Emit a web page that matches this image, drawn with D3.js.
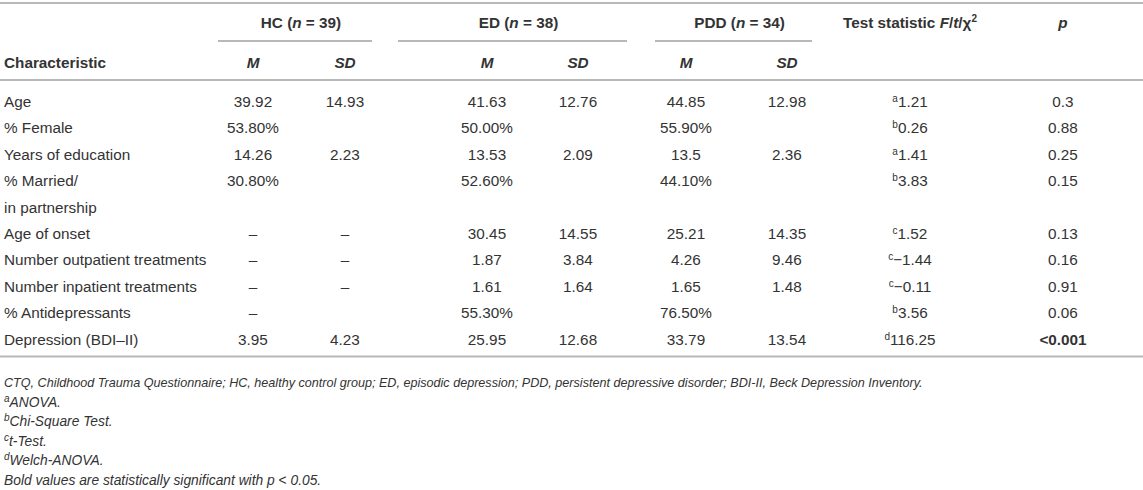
<!DOCTYPE html>
<html>
<head>
<meta charset="utf-8">
<script src="https://cdn.jsdelivr.net/npm/d3@7/dist/d3.min.js"></script>
<style>
    body { margin: 0; background: #fff; }
    svg text { font-family: "Liberation Sans", Arial, Helvetica, sans-serif; fill: #333; }
</style>
</head>
<body>
<svg width="1143" height="490"></svg>
<script>
// table content
var characteristics = ["Age", "% Female", "Years of education", "% Married/|in partnership", "Age of onset",
    "Number outpatient treatments", "Number inpatient treatments", "% Antidepressants", "Depression (BDI–II)"];
var groups = ["HC", "ED", "PDD"];
var groupN = [39, 38, 34];
var hcM   = ["39.92", "53.80%", "14.26", "30.80%", "–", "–", "–", "–", "3.95"];
var hcSD  = ["14.93", "", "2.23", "", "–", "–", "–", "", "4.23"];
var edM   = ["41.63", "50.00%", "13.53", "52.60%", "30.45", "1.87", "1.61", "55.30%", "25.95"];
var edSD  = ["12.76", "", "2.09", "", "14.55", "3.84", "1.64", "", "12.68"];
var pddM  = ["44.85", "55.90%", "13.5", "44.10%", "25.21", "4.26", "1.65", "76.50%", "33.79"];
var pddSD = ["12.98", "", "2.36", "", "14.35", "9.46", "1.48", "", "13.54"];
var testType = ["a", "b", "a", "b", "c", "c", "c", "b", "d"];
var testStat = ["1.21", "0.26", "1.41", "3.83", "1.52", "−1.44", "−0.11", "3.56", "116.25"];
var pValues  = ["0.3", "0.88", "0.25", "0.15", "0.13", "0.16", "0.91", "0.06", "<0.001"];
var pBold    = [false, false, false, false, false, false, false, false, true];
var footnotes = [
    { sup: "", text: "CTQ, Childhood Trauma Questionnaire; HC, healthy control group; ED, episodic depression; PDD, persistent depressive disorder; BDI-II, Beck Depression Inventory." },
    { sup: "a", text: "ANOVA." },
    { sup: "b", text: "Chi-Square Test." },
    { sup: "c", text: "t-Test." },
    { sup: "d", text: "Welch-ANOVA." },
    { sup: "", text: "Bold values are statistically significant with p < 0.05." }
];

var W = 1143;
var FS = 15.3;
var svg = d3.select("svg");
var ruleColor = "#b8b8b8";

// column positions
var colKeys = ["hcM", "hcSD", "edM", "edSD", "pddM", "pddSD", "stat", "p"];
var x = d3.scaleOrdinal().domain(colKeys).range([253, 345, 487, 578, 686, 787, 910, 1063]);
// spans of the rules under the group headers
var groupSpan = [[218, 372], [398, 627], [655, 812]];

// each row may take several text lines; line index -> y
var lineStart = [];
var n = 0;
characteristics.forEach(function (c) { lineStart.push(n); n += c.split("|").length; });
var y = d3.scaleLinear().domain([0, 1]).range([102, 128.4]);

// rules
function rule(yy, x1, x2) {
    svg.append("line").attr("x1", x1).attr("x2", x2).attr("y1", yy).attr("y2", yy)
        .attr("stroke", ruleColor).attr("stroke-width", 2);
}
rule(3, 0, W);
rule(80, 0, W);
rule(y(n - 1) + 17, 0, W);

// group headers
var pairs = [["hcM", "hcSD"], ["edM", "edSD"], ["pddM", "pddSD"]];
groups.forEach(function (g, i) {
    var cx = (groupSpan[i][0] + groupSpan[i][1]) / 2 + 6;
    var t = svg.append("text").attr("x", cx).attr("y", 28).attr("text-anchor", "middle")
        .attr("font-size", FS).attr("font-weight", "bold");
    t.append("tspan").text(g + " (");
    t.append("tspan").attr("font-style", "italic").text("n");
    t.append("tspan").text(" = " + groupN[i] + ")");
    rule(41, groupSpan[i][0], groupSpan[i][1]);

    pairs[i].forEach(function (k, j) {
        svg.append("text").attr("x", x(k)).attr("y", 68).attr("text-anchor", "middle")
            .attr("font-size", FS).attr("font-weight", "bold").attr("font-style", "italic")
            .text(j == 0 ? "M" : "SD");
    });
});

var th = svg.append("text").attr("x", x("stat")).attr("y", 28).attr("text-anchor", "middle")
    .attr("font-size", FS).attr("font-weight", "bold");
th.append("tspan").text("Test statistic ");
th.append("tspan").attr("font-style", "italic").text("F");
th.append("tspan").text("/");
th.append("tspan").attr("font-style", "italic").text("t");
th.append("tspan").text("/χ");
th.append("tspan").attr("font-size", 10).attr("dy", -6).text("2");

svg.append("text").attr("x", x("p")).attr("y", 28).attr("text-anchor", "middle")
    .attr("font-size", FS).attr("font-weight", "bold").attr("font-style", "italic").text("p");

svg.append("text").attr("x", 4).attr("y", 68).attr("font-size", FS).attr("font-weight", "bold")
    .text("Characteristic");

// body rows
var cols = { hcM: hcM, hcSD: hcSD, edM: edM, edSD: edSD, pddM: pddM, pddSD: pddSD };
characteristics.forEach(function (c, i) {
    var yy = y(lineStart[i]) + 5;
    c.split("|").forEach(function (line, j) {
        svg.append("text").attr("x", 4).attr("y", y(lineStart[i] + j) + 5)
            .attr("font-size", FS).text(line);
    });
    Object.keys(cols).forEach(function (k) {
        if (cols[k][i] == "") return;
        svg.append("text").attr("x", x(k)).attr("y", yy).attr("text-anchor", "middle")
            .attr("font-size", FS).text(cols[k][i]);
    });
    var st = svg.append("text").attr("x", x("stat")).attr("y", yy).attr("text-anchor", "middle")
        .attr("font-size", FS);
    st.append("tspan").attr("font-size", 10).attr("dy", -5).text(testType[i]);
    st.append("tspan").attr("dy", 5).text(testStat[i]);
    svg.append("text").attr("x", x("p")).attr("y", yy).attr("text-anchor", "middle")
        .attr("font-size", FS).attr("font-weight", pBold[i] ? "bold" : "normal").text(pValues[i]);
});

// footnotes
var fy = d3.scaleLinear().domain([0, 1]).range([387, 406.6]);
footnotes.forEach(function (f, i) {
    var t = svg.append("text").attr("x", 4).attr("y", fy(i)).attr("font-size", 13.8)
        .attr("font-style", "italic");
    if (f.sup) {
        t.append("tspan").attr("font-size", 10).attr("dy", -5).text(f.sup);
        t.append("tspan").attr("dy", 5).text(f.text);
    } else if (i == footnotes.length - 1) {
        var parts = f.text.split("p <");
        t.append("tspan").text(parts[0]);
        t.append("tspan").text("p");
        t.append("tspan").attr("font-style", "normal").text(" < ");
        t.append("tspan").text(parts[1].trim());
    } else {
        // the long line runs narrower in the original
        t.attr("font-size", 12.6).text(f.text);
    }
});
</script>
</body>
</html>
